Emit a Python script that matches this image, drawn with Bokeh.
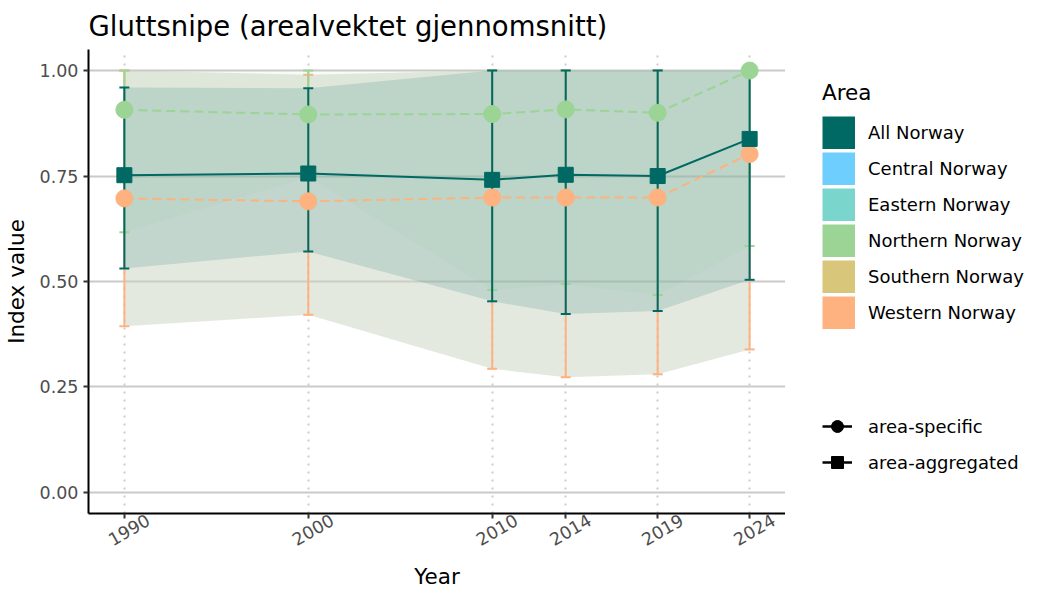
import math
from bokeh.plotting import figure
from bokeh.models import Range1d, FixedTicker, Legend, LegendItem, LinearAxis
from bokeh.layouts import row
from bokeh.embed import file_html
from bokeh.resources import INLINE

# ---------------- data ----------------
years = [1990, 2000, 2010, 2014, 2019, 2024]

all_val = [0.752, 0.756, 0.741, 0.753, 0.750, 0.838]
all_lo = [0.531, 0.571, 0.453, 0.423, 0.430, 0.504]
all_hi = [0.960, 0.958, 1.000, 1.000, 1.000, 1.000]

north_val = [0.907, 0.896, 0.897, 0.908, 0.900, 1.000]
north_lo = [0.617, 0.748, 0.480, 0.494, 0.468, 0.584]
north_hi = [1.000, 1.000, 1.000, 1.000, 1.000, 1.000]

west_val = [0.697, 0.690, 0.699, 0.699, 0.699, 0.802]
west_lo = [0.394, 0.421, 0.293, 0.273, 0.280, 0.339]
west_hi = [1.000, 0.990, 1.000, 1.000, 1.000, 1.000]

areas = ["All Norway", "Central Norway", "Eastern Norway",
         "Northern Norway", "Southern Norway", "Western Norway"]
area_colors = ["#006963", "#6ECEFD", "#7AD6CD", "#9BD495", "#D8C67A", "#FDB27F"]
shape_labels = ["area-specific", "area-aggregated"]

y_ticks = [0.0, 0.25, 0.5, 0.75, 1.0]
y_tick_labels = ["0.00", "0.25", "0.50", "0.75", "1.00"]
x_tick_labels = ["1990", "2000", "2010", "2014", "2019", "2024"]

FONT = "DejaVu Sans"
TEAL = area_colors[0]
GREEN = area_colors[3]
ORANGE = area_colors[5]

X0, X1 = 1988.05, 2025.95
LABEL_SHIFT = 1.3  # years: centres rotated tick labels on their ticks

p = figure(frame_width=697, frame_height=464, output_backend="svg",
           toolbar_location=None,
           x_range=Range1d(X0, X1), y_range=Range1d(-0.05, 1.05),
           min_border_left=81, min_border_right=0, min_border_top=41,
           min_border_bottom=10)
p.outline_line_color = None
p.background_fill_color = "white"
p.border_fill_color = "white"

# title
p.title.text = "Gluttsnipe (arealvektet gjennomsnitt)"
p.title.text_font = FONT
p.title.text_font_size = "27.5px"
p.title.text_font_style = "normal"
p.title.text_color = "black"
p.title.align = "left"
p.title.offset = 0
p.title.standoff = 15

# grids
p.ygrid.ticker = FixedTicker(ticks=y_ticks)
p.ygrid.grid_line_color = "#cacaca"
p.ygrid.grid_line_width = 1.8
p.xgrid.ticker = FixedTicker(ticks=years)
p.xgrid.grid_line_color = "#cccccc"
p.xgrid.grid_line_width = 2
p.xgrid.grid_line_dash = "2 6"


def style_axis(ax):
    ax.axis_line_color = "black"
    ax.axis_line_width = 2
    ax.major_tick_line_color = "#333333"
    ax.major_tick_line_width = 2
    ax.major_tick_out = 5
    ax.major_tick_in = 0
    ax.minor_tick_line_color = None
    ax.major_label_text_font = FONT
    ax.major_label_text_font_size = "17.5px"
    ax.major_label_text_color = "#4d4d4d"
    ax.axis_label_text_font = FONT
    ax.axis_label_text_font_size = "21.5px"
    ax.axis_label_text_font_style = "normal"
    ax.axis_label_text_color = "black"


style_axis(p.xaxis[0])
style_axis(p.yaxis[0])

p.yaxis.ticker = FixedTicker(ticks=y_ticks)
p.yaxis.major_label_overrides = dict(zip(y_ticks, y_tick_labels))
p.yaxis.axis_label = "Index value"
p.yaxis.major_label_standoff = 5
p.yaxis.axis_label_standoff = 8

# main x axis: line + tick marks only
p.xaxis.ticker = FixedTicker(ticks=years)
p.xaxis.major_label_overrides = {y: "" for y in years}
p.xaxis.major_label_standoff = 0

# label axis: rotated year labels centred on the ticks
p.extra_x_ranges = {"labels": Range1d(X0 - LABEL_SHIFT, X1 - LABEL_SHIFT)}
lab_axis = LinearAxis(x_range_name="labels", ticker=FixedTicker(ticks=years))
style_axis(lab_axis)
lab_axis.axis_line_color = None
lab_axis.major_tick_line_color = None
lab_axis.major_tick_out = 0
lab_axis.major_label_overrides = dict(zip(years, x_tick_labels))
lab_axis.major_label_orientation = math.radians(30)
lab_axis.major_label_standoff = 0
lab_axis.axis_label = "Year"
lab_axis.axis_label_standoff = 9
p.add_layout(lab_axis, "below")

# ribbons
p.varea(x=years, y1=west_lo, y2=west_hi, fill_color="#c9d3c1", fill_alpha=0.5)
p.varea(x=years, y1=north_lo, y2=north_hi, fill_color=GREEN, fill_alpha=0.08)
p.varea(x=years, y1=all_lo, y2=all_hi, fill_color=TEAL, fill_alpha=0.15)

# error bars
for lo, hi, col in ((west_lo, west_hi, ORANGE), (north_lo, north_hi, GREEN),
                    (all_lo, all_hi, TEAL)):
    p.segment(x0=years, y0=lo, x1=years, y1=hi, line_color=col, line_width=2)
    p.scatter(x=years + years, y=lo + hi, marker="dash", size=10,
              line_color=col, line_width=2)

# lines
p.line(years, west_val, line_color=ORANGE, line_width=2, line_dash="9 5")
p.line(years, north_val, line_color=GREEN, line_width=2, line_dash="9 5")
p.line(years, all_val, line_color=TEAL, line_width=2)

# points
p.scatter(years, west_val, marker="circle", size=17, fill_color=ORANGE, line_color=ORANGE)
p.scatter(years, north_val, marker="circle", size=17, fill_color=GREEN, line_color=GREEN)
p.scatter(years, all_val, marker="square", size=15, fill_color=TEAL, line_color=TEAL)

# ---------------- legend panel ----------------
LW, LH = 256, 584
lf = figure(width=LW, height=LH, output_backend="svg", toolbar_location=None,
            x_range=Range1d(0, LW), y_range=Range1d(0, LH),
            x_axis_location=None, y_axis_location=None, min_border=0)
lf.outline_line_color = None
lf.grid.visible = False

OFF = [-1000]  # legend keys only; kept outside the visible range
items1 = []
for name, col in zip(areas, area_colors):
    r = lf.line(x=OFF, y=OFF, line_color=col, line_width=33)
    items1.append(LegendItem(label=name, renderers=[r]))
leg1 = Legend(items=items1, location=(37, 176), title="Area",
              glyph_width=33, glyph_height=33, spacing=3, label_standoff=13,
              padding=0, margin=0, border_line_color=None,
              background_fill_alpha=0, label_text_font=FONT,
              label_text_font_size="18px", label_text_color="black",
              title_text_font=FONT, title_text_font_size="21.5px",
              title_text_font_style="normal", title_text_color="black",
              title_standoff=11)
lf.add_layout(leg1, "center")

rl1 = lf.line(x=OFF, y=OFF, line_color="black", line_width=2.5)
rs1 = lf.scatter(x=OFF, y=OFF, marker="circle", fill_color="black", line_color="black")
rl2 = lf.line(x=OFF, y=OFF, line_color="black", line_width=2.5)
rs2 = lf.scatter(x=OFF, y=OFF, marker="square", fill_color="black", line_color="black")
leg2 = Legend(items=[LegendItem(label=shape_labels[0], renderers=[rl1, rs1]),
                     LegendItem(label=shape_labels[1], renderers=[rl2, rs2])],
              location=(37, 28), glyph_width=30, glyph_height=30, spacing=6,
              label_standoff=16, padding=0, margin=0, border_line_color=None,
              background_fill_alpha=0, label_text_font=FONT,
              label_text_font_size="18px", label_text_color="black")
lf.add_layout(leg2, "center")

layout = row(p, lf)
open("out.html", "w").write(file_html(layout, INLINE))
